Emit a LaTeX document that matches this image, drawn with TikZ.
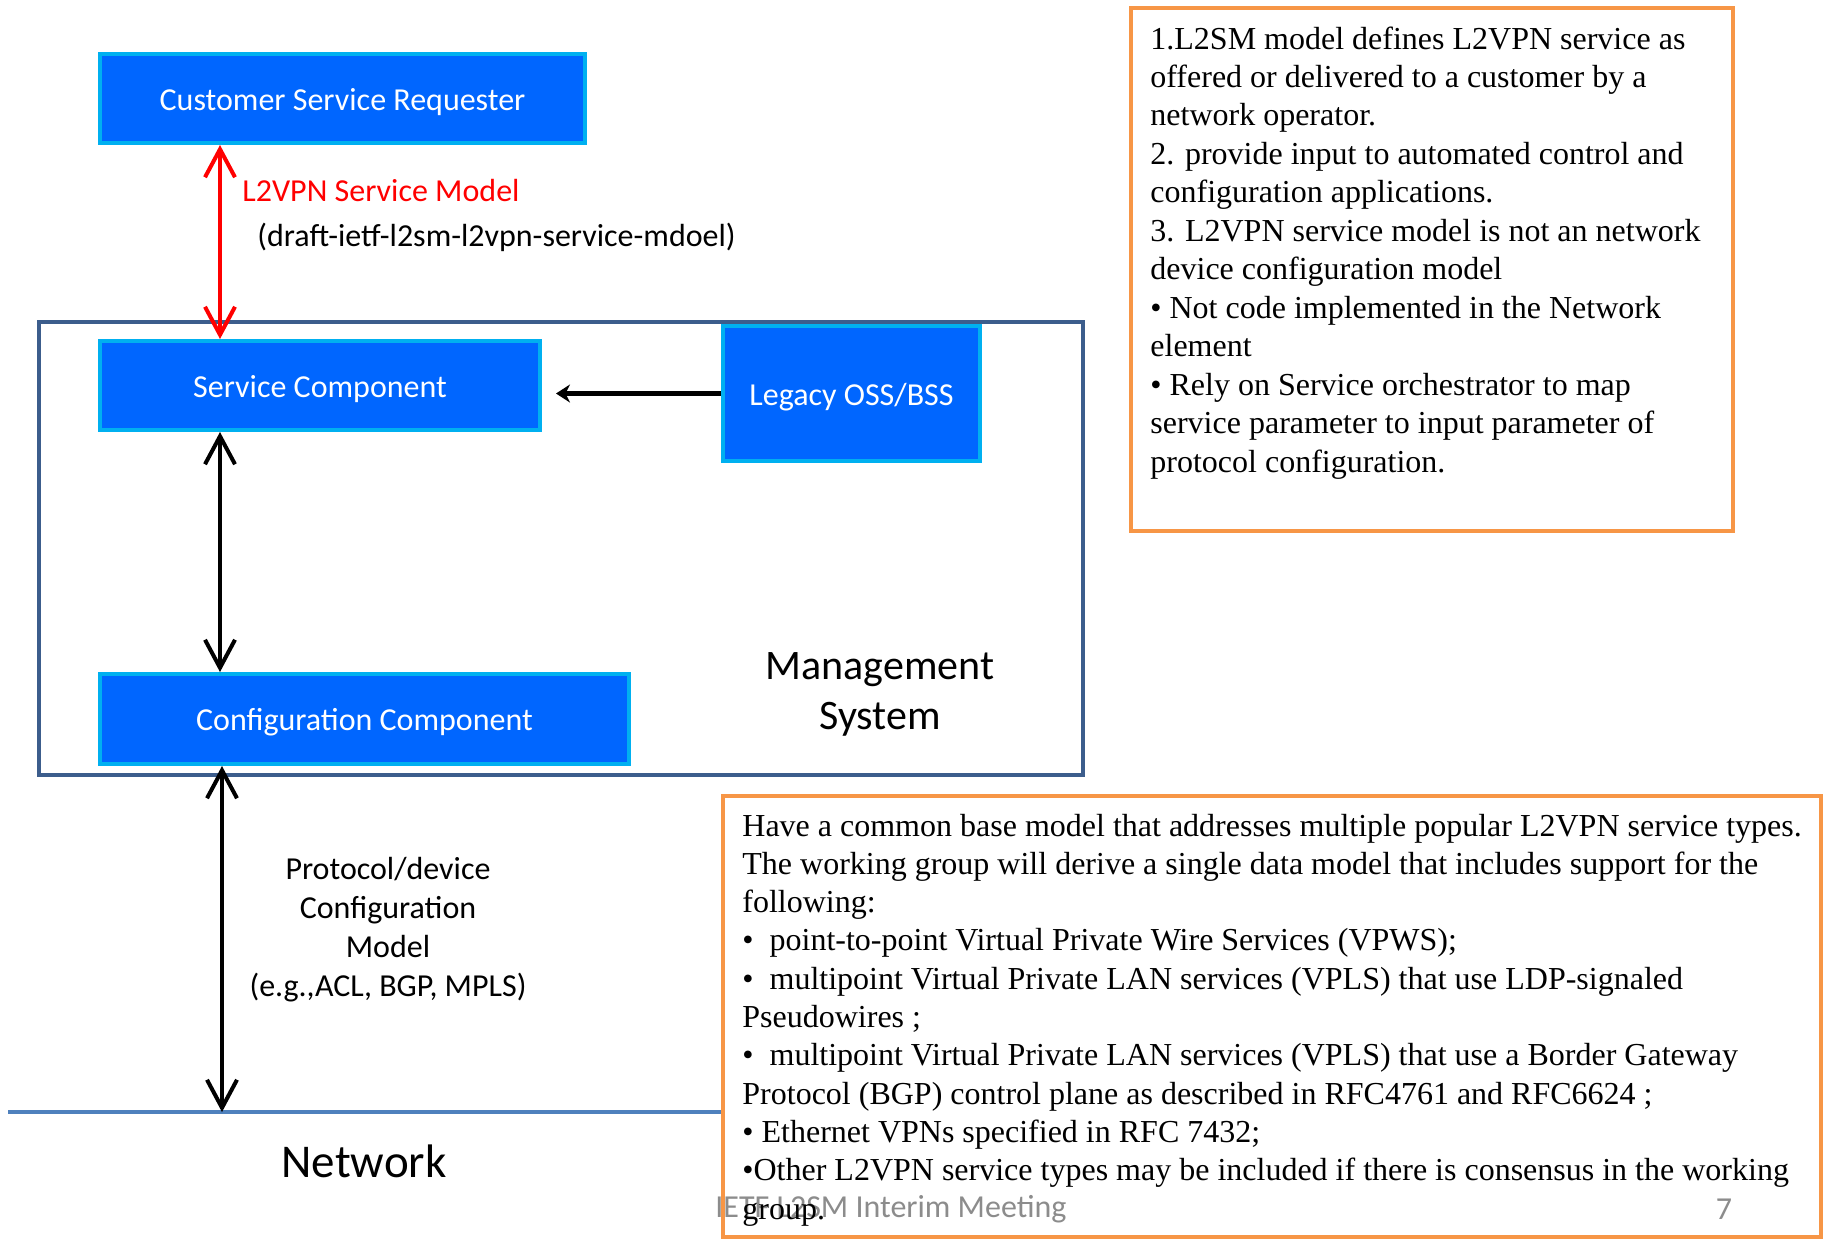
\documentclass[tikz,border=0pt]{standalone}
\usepackage{fontspec}
\setmainfont{Liberation Serif}
\newfontfamily\calfont{Carlito}
\usetikzlibrary{arrows.meta}
\definecolor{boxblue}{HTML}{0066FF}
\definecolor{boxedge}{HTML}{00B0F0}
\definecolor{mgmtedge}{HTML}{3C5D8C}
\definecolor{netblue}{HTML}{4F81BD}
\definecolor{orangeedge}{HTML}{F79646}
\definecolor{footgray}{HTML}{8C8C8C}
\newcommand{\lowr}[1]{\raisebox{-1.75pt}[\height][\depth]{#1}}
\begin{document}
\begin{tikzpicture}[x=0.5pt,y=-0.5pt,
  bluebox/.style={draw=boxedge, fill=boxblue, line width=2pt, text=white,
    font=\calfont\fontsize{16}{19}\selectfont, inner sep=0pt},
  orangebox/.style={draw=orangeedge, fill=white, line width=2pt, inner sep=0pt},
  barbarrow/.style={line width=2pt,
    {Straight Barb[length=14pt,width=15pt]}-{Straight Barb[length=14pt,width=15pt]}},
  callbl/.style={font=\calfont\fontsize{16}{19.5}\selectfont, inner sep=0pt},
  serifline/.style={font=\fontsize{16}{19.3}\selectfont, inner sep=0pt, anchor=base west},
]
\useasboundingbox (0,0) rectangle (1823,1239);
\fill[white] (0,0) rectangle (1823,1239);

% management system container
\node[draw=mgmtedge, line width=2pt, minimum width=522pt, minimum height=226.5pt, inner sep=0pt] (mgmt) at (561,548.5) {};
\node[align=center, font=\calfont\fontsize{21}{25}\selectfont, inner sep=0pt] (mlab) at (880,694) {Management\\System};

% network line
\coordinate (netL) at (8,1112);
\coordinate (netR) at (721,1112);
\draw[netblue, line width=2pt] (netL) -- (netR);
\node[font=\calfont\fontsize{23.5}{28}\selectfont, inner sep=0pt] (net) at (364,1161) {Network};

% orange text boxes
\node[orangebox, minimum width=301pt, minimum height=261.5pt] (topbox) at (1432,269.5) {};
\node[orangebox, minimum width=549pt, minimum height=220.5pt] (botbox) at (1272,1016.5) {};

% footer
\node[callbl, anchor=west, text=footgray] (foot) at (715,1209) {IETF L2SM Interim Meeting};
\node[callbl, text=footgray] (pnum) at (1724,1209) {7};

% top right text
\foreach \t [count=\i] in {
  {1.L2SM model defines L2VPN service as},
  {offered or delivered to a customer by a},
  {network operator.},
  {2. provide input to automated control and},
  {configuration applications.},
  {3. L2VPN service model is not an network},
  {device configuration model},
  {• Not code implemented in the Network},
  {element},
  {• Rely on Service orchestrator to map},
  {service parameter to input parameter of},
  {protocol configuration.}}
  \node[serifline] (tr\i) at (1150,{49+38.47*(\i-1)}) {\t};

% bottom text
\foreach \t [count=\i] in {
  {Have a common base model that addresses multiple popular L2VPN service types.},
  {The working group will derive a single data model that includes support for the},
  {following:},
  {•\ \ point-to-point Virtual Private Wire Services (VPWS);},
  {•\ \ multipoint Virtual Private LAN services (VPLS) that use LDP-signaled},
  {Pseudowires ;},
  {•\ \ multipoint Virtual Private LAN services (VPLS) that use a Border Gateway},
  {Protocol (BGP) control plane as described in RFC4761 and RFC6624 ;},
  {• Ethernet VPNs specified in RFC 7432;},
  {•Other L2VPN service types may be included if there is consensus in the working},
  {group.}}
  \node[serifline] (br\i) at (742,{836+38.3*(\i-1)}) {\t};

% blue component boxes
\node[bluebox, minimum width=242.5pt, minimum height=44.5pt] (csr) at (342.5,98.5) {\lowr{Customer Service Requester}};
\node[bluebox, minimum width=220pt, minimum height=44.5pt] (svc) at (320,385.5) {\lowr{Service Component}};
\node[bluebox, minimum width=128.5pt, minimum height=67.5pt] (leg) at (851.5,393.5) {\lowr{Legacy OSS/BSS}};
\node[bluebox, minimum width=264.5pt, minimum height=45pt] (cfg) at (364.5,719) {\lowr{Configuration Component}};

% labels
\node[callbl, anchor=west, text=red] (l2lbl) at (242,190) {L2VPN Service Model};
\node[callbl, anchor=west] (draft) at (257,237) {(draft-ietf-l2sm-l2vpn-service-mdoel)};
\node[callbl, align=center] (proto) at (388,930) {Protocol/device\\Configuration\\Model\\(e.g.,ACL, BGP, MPLS)};

% connectors
\coordinate (ax) at (220,0);
\coordinate (bx) at (222,0);
\draw[barbarrow, red] (csr.south -| ax) -- (svc.north -| ax);
\draw[barbarrow] (svc.south -| ax) -- (cfg.north -| ax);
\draw[barbarrow] (cfg.south -| bx) -- (netL -| bx);
\draw[line width=2.5pt, -{Stealth[length=7pt,width=9pt]}, shorten >=7pt] (leg.west) -- (leg.west -| svc.east);
\end{tikzpicture}
\end{document}
